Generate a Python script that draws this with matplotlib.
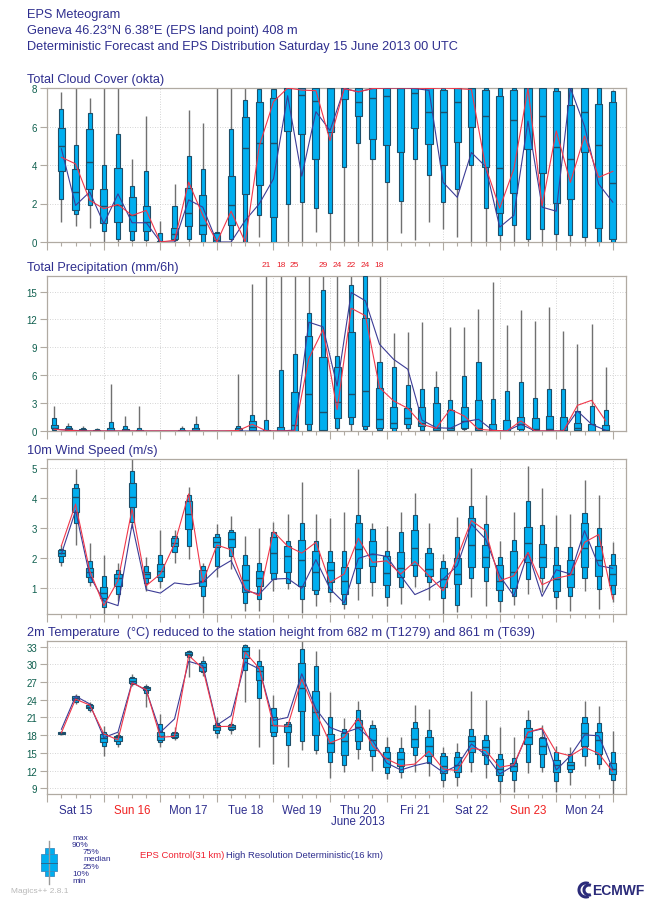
import matplotlib
matplotlib.use('Agg')
import matplotlib.pyplot as plt
from matplotlib.patches import Rectangle, Arc
from matplotlib.lines import Line2D

plt.rcParams['font.family'] = ['Liberation Sans', 'DejaVu Sans']

# ---------------- data ----------------
steps = list(range(6, 241, 6))          # forecast hours from 15 June 00 UTC
pr_steps = [h - 3 for h in steps]       # 6h accumulation centres

day_labels = ['Sat 15', 'Sun 16', 'Mon 17', 'Tue 18', 'Wed 19',
              'Thu 20', 'Fri 21', 'Sat 22', 'Sun 23', 'Mon 24']
day_is_sunday = [False, True, False, False, False, False, False, False, True, False]

# Total cloud cover (okta)
cc_max = [7.77, 8, 7.5, 8, 8, 4.32, 6.56, 1.09, 3.02, 6.87, 6.18, 8, 8, 8, 8, 8, 8, 8, 8, 8,
          8, 8, 8, 8, 8, 8, 8, 8, 8, 8, 8, 8, 8, 8, 8, 8, 8, 8, 8, 7.9]
cc_p90 = [6.9, 5.04, 6.68, 4.0, 5.6, 2.9, 3.68, 0.48, 1.87, 4.49, 3.8, 0.5, 5.87, 7.37, 7.94, 7.94, 8, 8, 8, 8,
          8, 8, 8, 8, 8, 8, 8, 8, 8, 8, 8, 8, 8, 8, 8, 8, 8, 8, 8, 7.83]
cc_p75 = [5.9, 3.8, 5.87, 2.73, 3.83, 2.33, 1.87, 0.05, 0.73, 2.82, 2.42, 0.45, 3.42, 6.48, 7.29, 7.46, 8, 8, 8, 8,
          8, 8, 8, 8, 8, 8, 8, 7.92, 8, 8, 7.88, 7.6, 7.88, 8, 8, 7.83, 7.11, 8, 7.18, 7.26]
cc_med = [4.97, 2.62, 4.14, 1.87, 1.93, 1.38, 1.04, 0, 0.43, 1.52, 0.9, 0.1, 1.93, 4.89, 5.15, 5.15, 8, 7.63, 7.34, 8,
          8, 7.28, 7.49, 7.6, 8, 7.75, 6.76, 6.76, 7.28, 8, 6.57, 3.82, 6.32, 8, 6.57, 4.96, 4.3, 6.76, 5.03, 3.06]
cc_p25 = [3.68, 1.68, 2.76, 1.0, 1.04, 0.57, 0.57, 0, 0.17, 0.81, 0.43, 0, 0.9, 2.5, 2.94, 1.3, 5.79, 5.6, 4.32, 5.73,
          7.44, 6.54, 5.37, 5.03, 4.7, 5.9, 5.11, 3.99, 5.2, 5.99, 3.92, 1.51, 2.55, 4.82, 3.61, 2.01, 2.24, 4.7, 0.72, 0.17]
cc_p10 = [2.25, 1.43, 1.9, 0.55, 0.17, 0.09, 0.09, 0, 0.09, 0.17, 0, 0, 0.17, 0, 1.38, 0, 1.99, 2.07, 1.76, 1.52,
          3.92, 5.13, 4.3, 3.1, 2.15, 4.3, 3.49, 2.07, 2.75, 3.99, 1.76, 0.34, 0.9, 0.17, 0.65, 0.43, 0.34, 0.26, 0, 0]
cc_min = [1.04, 0.81, 0.72, 0, 0, 0, 0, 0, 0, 0, 0, 0, 0, 0, 0.26, 0, 0, 0, 0.52, 0,
          0, 0, 0, 0, 0.48, 0.09, 1.03, 0.69, 0.26, 0, 0, 0, 0, 0, 0, 0, 0, 0, 0, 0]
cc_ctrl = [4.4, 4.06, 2.16, 1.73, 1.95, 1.38, 1.64, 0, 0.09, 3.11, 1.38, 0, 1.6, 0, 5.0, 7.29, 8, 7.89, 7.86, 5.27,
           7.97, 7.8, 7.97, 8, 8, 8, 7.97, 8, 7.97, 7.92, 3.92, 1.76, 3.79, 7.97, 1.89, 5.77, 3.1, 5.51, 3.36, 3.67]
cc_hres = [4.84, 1.9, 2.6, 0.95, 2.5, 1.0, 1.0, 0, 0, 2.19, 1.81, 0, 0, 1.12, 1.99, 3.28, 7.6, 3.42, 6.77, 5.79,
           7.97, 7.8, 7.97, 8, 8, 7.97, 7.88, 3.1, 2.32, 4.65, 3.92, 0.77, 1.38, 6.28, 1.81, 1.6, 8, 6.02, 3.01, 2.07]

# Total precipitation (mm/6h)
pr_max = [2.69, 0.9, 0.54, 0.36, 5.1, 1.61, 2.69, 0, 0, 0.54, 1.61, 0, 0, 6.1, 15.8, 21, 18, 25, 16.9, 29,
          24, 22, 24, 18, 10.5, 10.6, 11.7, 6.46, 11.2, 11.2, 13.1, 16.0, 11.4, 13.0, 11.8, 13.3, 10.8, 9.33, 11.5, 6.92]
pr_p90 = [1.44, 0.54, 0.36, 0.22, 0.97, 0.5, 0.32, 0, 0, 0.29, 0.75, 0, 0, 0.54, 1.69, 1.2, 6.6, 8.3, 12.7, 15.2,
          8.07, 15.7, 16.7, 7.46, 6.9, 5.0, 4.56, 4.77, 3.3, 5.92, 7.46, 3.41, 4.3, 5.31, 3.52, 4.56, 4.49, 2.15, 2.69, 2.26]
pr_p75 = [0.65, 0.36, 0.18, 0.1, 0.29, 0.18, 0.14, 0, 0, 0.1, 0.36, 0, 0, 0.36, 1.08, 0.1, 0.4, 4.2, 10.2, 8.0,
          6.9, 10.6, 12.2, 4.66, 2.62, 2.5, 2.58, 3.05, 2.26, 2.58, 3.34, 0.79, 1.15, 1.54, 1.44, 1.61, 1.51, 0.9, 0.72, 0.61]
pr_med = [0.36, 0.2, 0.07, 0.03, 0.03, 0.02, 0, 0, 0, 0.02, 0.14, 0, 0, 0.1, 0.47, 0.02, 0.02, 0.6, 3.95, 2.0,
          3.16, 3.95, 4.3, 1.26, 0.9, 1.36, 0.9, 0.3, 0.36, 1.08, 0.36, 0.07, 0.05, 0.72, 0.25, 0.18, 0.1, 0.36, 0.05, 0.07]
pr_p25 = [0.29, 0.1, 0, 0, 0, 0, 0, 0, 0, 0, 0.03, 0, 0, 0, 0.1, 0, 0, 0.05, 0.7, 0.1,
          1.44, 1.54, 0.54, 0.36, 0.36, 0.79, 0.54, 0.1, 0.1, 0.36, 0.1, 0, 0, 0.18, 0.1, 0.1, 0, 0.1, 0, 0]
pr_p10 = [0.14, 0, 0, 0, 0, 0, 0, 0, 0, 0, 0, 0, 0, 0, 0, 0, 0, 0, 0.1, 0,
          0.36, 0.72, 0.18, 0.1, 0.05, 0.29, 0.1, 0, 0, 0.18, 0, 0, 0, 0, 0, 0, 0, 0, 0, 0]
pr_min = [0] * 40
pr_ctrl = [0.18, 0.07, 0, 0, 0, 0, 0, 0, 0, 0, 0, 0, 0, 0.05, 0.72, 0, 0, 0, 7.8, 10.9,
           2.3, 13.2, 12.4, 4.66, 3.23, 2.44, 0.72, 0.29, 2.33, 1.61, 0.18, 0.07, 0, 1.08, 0, 0, 0, 2.76, 3.3, 1.08]
pr_hres = [0.18, 0.1, 0.02, 0, 0, 0, 0, 0, 0, 0, 0, 0, 0, 0, 0, 0, 0, 0.1, 11.7, 11.2,
           4.84, 14.9, 14.0, 9.33, 7.7, 6.64, 1.18, 0.36, 0.29, 1.0, 1.26, 0.07, 0, 0.72, 0, 0, 0, 2.15, 0.72, 0.07]

# 10m wind speed (m/s)
wd_max = [2.43, 4.98, 2.49, 2.09, 1.83, 5.3, 2.02, 2.94, 2.94, 4.36, 1.82, 3.13, 3.41, 2.74, 2.99, 3.19, 3.47, 4.53, 3.47, 3.32,
          3.55, 4.96, 3.17, 3.08, 3.53, 4.17, 3.16, 2.13, 3.36, 5.0, 4.11, 2.58, 3.55, 5.09, 4.33, 3.44, 3.47, 4.62, 4.11, 2.54]
wd_p90 = [2.3, 4.47, 1.88, 1.4, 1.59, 4.92, 1.74, 2.09, 2.74, 4.11, 1.74, 2.8, 2.94, 2.09, 1.83, 2.88, 2.55, 3.17, 2.58, 2.24,
          2.22, 3.43, 2.96, 2.22, 2.85, 3.44, 2.33, 1.9, 2.69, 3.73, 3.13, 2.04, 2.6, 3.92, 3.1, 2.35, 2.35, 3.49, 3.0, 2.13]
wd_p75 = [2.26, 4.33, 1.65, 1.01, 1.46, 4.5, 1.54, 1.79, 2.66, 3.92, 1.6, 2.69, 2.85, 1.76, 1.57, 2.69, 2.39, 2.61, 2.22, 1.85,
          1.7, 3.17, 2.57, 2.07, 2.18, 2.93, 2.15, 1.66, 1.99, 3.34, 2.43, 1.76, 2.24, 3.04, 2.46, 1.77, 1.93, 3.16, 2.41, 1.76]
wd_med = [2.16, 4.03, 1.54, 0.82, 1.31, 4.03, 1.46, 1.55, 2.49, 3.47, 1.23, 2.52, 2.63, 1.26, 1.31, 2.16, 2.05, 1.94, 1.51, 1.59,
          1.23, 2.3, 2.13, 1.48, 1.65, 2.33, 1.63, 1.29, 1.46, 2.43, 2.02, 1.23, 1.51, 2.49, 2.02, 1.29, 1.46, 2.33, 1.93, 1.46]
wd_p25 = [2.05, 3.53, 1.37, 0.64, 1.07, 3.69, 1.31, 1.35, 2.39, 2.97, 1.07, 2.35, 2.35, 0.84, 1.07, 1.48, 1.51, 1.07, 0.93, 1.18,
          0.79, 1.65, 1.74, 1.09, 1.37, 1.76, 1.38, 1.01, 1.12, 1.7, 1.68, 0.92, 0.98, 1.85, 1.7, 0.88, 1.03, 1.7, 1.38, 1.09]
wd_p10 = [1.85, 3.16, 1.18, 0.34, 0.79, 3.19, 1.15, 1.23, 2.21, 2.41, 0.73, 1.74, 2.07, 0.49, 0.62, 1.29, 1.16, 0.62, 0.79, 0.84,
          0.47, 1.16, 1.18, 0.7, 1.04, 1.38, 1.18, 0.65, 0.43, 1.31, 1.23, 0.56, 0.73, 1.29, 1.31, 0.68, 0.73, 1.32, 0.96, 0.8]
wd_min = [1.74, 2.43, 1.07, 0.12, 0.56, 2.99, 0.9, 0.98, 1.83, 1.96, 0.17, 1.35, 1.63, 0.23, 0.23, 0.9, 0.96, 0.17, 0.4, 0.51,
          0.28, 0.6, 0.73, 0.4, 0.47, 1.03, 0.59, 0.12, 0.2, 0.7, 0.4, 0.2, 0.42, 0.79, 0.84, 0.28, 0.23, 0.9, 0.28, 0.51]
wd_ctrl = [2.41, 3.8, 1.57, 0.4, 1.23, 3.64, 1.07, 1.46, 2.46, 4.14, 1.18, 2.43, 2.27, 0.96, 0.73, 2.88, 2.39, 2.16, 2.52, 1.18,
           1.46, 2.66, 1.85, 1.9, 1.46, 1.88, 1.4, 0.9, 2.02, 3.25, 2.91, 1.23, 1.4, 2.18, 1.1, 1.32, 1.42, 2.52, 2.78, 0.62]
wd_hres = [2.13, 3.58, 1.4, 0.56, 0.4, 3.13, 0.93, 0.82, 1.16, 1.1, 1.18, 1.63, 1.91, 0.9, 0.79, 1.29, 1.31, 0.98, 1.94, 0.96,
           0.49, 1.98, 2.13, 2.05, 1.4, 0.77, 0.98, 1.29, 1.74, 3.13, 2.63, 1.4, 0.73, 2.18, 0.71, 1.6, 1.46, 2.91, 1.74, 1.65]

# 2m temperature (deg C)
tp_max = [18.66, 25.0, 23.6, 19.6, 18.5, 28.3, 26.7, 21.5, 19.3, 32.4, 31.4, 21.0, 20.2, 33.5, 32.6, 24.8, 20.3, 34.0, 32.3, 25.3,
          20.9, 23.86, 20.6, 17.64, 17.76, 23.1, 22.45, 15.95, 16.7, 25.4, 24.0, 19.34, 17.76, 22.3, 19.7, 16.2, 15.95, 23.86, 23.0, 18.77]
tp_p90 = [18.6, 24.7, 23.2, 18.6, 18.1, 27.8, 26.4, 19.9, 18.6, 32.2, 30.6, 20.1, 19.9, 33.2, 30.6, 22.56, 20.2, 32.6, 29.8, 21.0,
          19.06, 22.3, 19.7, 16.06, 15.8, 20.2, 18.9, 14.9, 15.1, 19.06, 18.04, 14.8, 14.1, 20.6, 17.76, 15.1, 14.8, 21.15, 20.07, 15.1]
tp_p75 = [18.5, 24.6, 23.1, 18.2, 17.9, 27.6, 26.2, 18.5, 18.4, 32.05, 30.2, 19.7, 19.7, 32.9, 29.8, 21.0, 19.9, 30.2, 25.55, 18.2,
          18.3, 20.6, 19.2, 15.2, 15.2, 19.2, 17.64, 14.4, 14.25, 17.9, 17.2, 13.97, 13.3, 19.2, 17.5, 13.86, 13.5, 20.07, 18.5, 13.2]
tp_med = [18.38, 24.3, 22.84, 17.53, 17.64, 27.25, 26.0, 17.8, 18.0, 31.77, 29.5, 19.34, 19.34, 32.2, 28.9, 19.7, 19.5, 25.95, 21.9, 16.7,
          17.0, 19.45, 17.2, 14.1, 13.97, 17.4, 16.1, 12.84, 13.0, 17.0, 16.06, 12.28, 12.84, 17.64, 16.1, 13.0, 13.0, 18.3, 17.2, 12.28]
tp_p25 = [18.27, 23.97, 22.56, 16.9, 17.08, 26.85, 25.67, 17.25, 17.76, 31.5, 28.9, 18.9, 19.05, 31.0, 27.36, 18.5, 18.5, 22.05, 18.04, 15.1,
          14.65, 17.0, 15.4, 12.56, 12.84, 16.06, 14.4, 11.6, 11.8, 15.1, 14.65, 11.26, 11.9, 16.5, 14.8, 11.8, 12.28, 16.2, 14.8, 11.43]
tp_p10 = [18.2, 23.7, 22.2, 16.2, 16.5, 26.6, 25.2, 16.9, 17.5, 31.2, 28.7, 18.3, 18.8, 29.1, 24.3, 17.9, 16.3, 17.08, 15.55, 13.5,
          13.0, 15.7, 14.5, 11.6, 11.7, 14.65, 13.3, 10.47, 10.98, 13.4, 13.1, 10.3, 10.47, 13.4, 12.67, 10.3, 11.8, 14.5, 13.1, 10.47]
tp_min = [18.1, 23.3, 21.9, 14.5, 15.95, 26.4, 22.7, 16.06, 17.25, 27.8, 28.1, 17.5, 18.2, 23.7, 16.06, 13.1, 12.56, 15.4, 14.8, 10.7,
          11.8, 14.0, 12.0, 10.6, 10.7, 11.7, 11.15, 9.17, 9.34, 11.8, 10.7, 8.04, 8.3, 11.6, 11.7, 8.4, 9.56, 12.84, 12.28, 8.04]
tp_ctrl = [18.4, 24.1, 23.1, 18.2, 17.2, 26.85, 25.7, 17.64, 17.8, 31.5, 29.3, 19.45, 19.5, 32.05, 29.3, 19.6, 19.5, 27.5, 21.8, 16.7,
           17.64, 20.86, 16.2, 13.97, 12.84, 13.1, 15.27, 12.28, 12.0, 15.8, 15.4, 12.56, 13.0, 18.5, 19.2, 15.1, 14.5, 15.95, 14.9, 11.8]
tp_hres = [19.0, 24.6, 23.3, 17.6, 18.5, 26.96, 25.55, 18.5, 20.75, 30.5, 29.8, 19.7, 21.3, 30.4, 29.2, 20.5, 21.0, 28.4, 22.45, 19.3,
           18.4, 19.2, 17.1, 13.3, 12.1, 12.84, 13.4, 11.7, 12.84, 16.5, 14.65, 11.43, 12.84, 18.5, 19.06, 12.1, 14.5, 18.04, 17.9, 12.28]

# ---------------- style ----------------
W, H = 645, 903
NAVY = '#2E2E8E'
TICKC = '#0E5F4E'
FILL = '#00AEEF'
EDGE = '#1E4F6A'
WHISK = '#707070'
RED = '#F0374A'
BLUE = '#3C3C96'
SPINE = '#B0AAA2'
GRIDC = '#C6C6C6'
NW, WW = 1.75, 3.0   # box widths in hours

fig = plt.figure(figsize=(W / 100, H / 100), dpi=100)
fig.patch.set_facecolor('white')


def fx(px):
    return px / W


def fy(py):
    return 1 - py / H


def add_ax(l, t, r, b):
    return fig.add_axes([l / W, 1 - b / H, (r - l) / W, (b - t) / H])


def setup(ax, ylim, yticks):
    ax.set_xlim(-0.25, 245.6)
    ax.set_ylim(*ylim)
    ax.set_yticks(yticks)
    ax.set_yticklabels([str(t) for t in yticks])
    ax.set_xticks(list(range(0, 241, 24)))
    ax.set_xticks(steps, minor=True)
    ax.tick_params(axis='x', which='major', length=6, width=0.8, color=SPINE, labelbottom=False)
    ax.tick_params(axis='x', which='minor', length=3, width=0.8, color=SPINE)
    ax.tick_params(axis='y', which='major', length=5, width=0.8, color=SPINE,
                   labelcolor=TICKC, labelsize=7, pad=2)
    ax.grid(True, which='major', linestyle=(0, (1, 2)), color=GRIDC, linewidth=0.6)
    ax.set_axisbelow(True)
    for s in ax.spines.values():
        s.set_color(SPINE)
        s.set_linewidth(0.9)


def draw_boxes(ax, x, mn, p10, p25, med, p75, p90, mx, ctrl, hres):
    ax.vlines(x, mn, mx, colors=WHISK, linewidth=1.0, zorder=2)
    for xi, a, b, c, d, m in zip(x, p10, p25, p75, p90, med):
        if d - a > 0:
            ax.bar(xi, d - a, bottom=a, width=NW, color=FILL, edgecolor=EDGE, linewidth=0.8, zorder=3)
        if c - b > 0:
            ax.bar(xi, c - b, bottom=b, width=WW, color=FILL, edgecolor=EDGE, linewidth=0.8, zorder=4)
        if d - a > 0:
            ax.hlines(m, xi - WW / 2, xi + WW / 2, colors=EDGE, linewidth=1.0, zorder=5)
    ax.plot(x, hres, color=BLUE, linewidth=0.8, zorder=6)
    ax.plot(x, ctrl, color=RED, linewidth=0.8, zorder=7)


# ---------------- titles ----------------
tkw = dict(color=NAVY, fontsize=9.2, ha='left', va='center')
fig.text(fx(27), fy(15), 'EPS Meteogram', **tkw)
fig.text(fx(27), fy(31), 'Geneva 46.23°N 6.38°E (EPS land point) 408 m', **tkw)
fig.text(fx(27), fy(47), 'Deterministic Forecast and EPS Distribution Saturday 15 June 2013 00 UTC', **tkw)

fig.text(fx(27), fy(80), 'Total Cloud Cover (okta)', **tkw)
fig.text(fx(27), fy(267.7), 'Total Precipitation (mm/6h)', **tkw)
fig.text(fx(27), fy(451), '10m Wind Speed (m/s)', **tkw)
fig.text(fx(27), fy(632.7), '2m Temperature  (°C) reduced to the station height from 682 m (T1279) and 861 m (T639)', **tkw)

# ---------------- panels ----------------
L, R = 46.7, 626
ax1 = add_ax(L, 89, R, 243)
setup(ax1, (0, 8), [0, 2, 4, 6, 8])
draw_boxes(ax1, steps, cc_min, cc_p10, cc_p25, cc_med, cc_p75, cc_p90, cc_max, cc_ctrl, cc_hres)

ax2 = add_ax(L, 276.7, R, 432)
setup(ax2, (0, 16.7), [0, 3, 6, 9, 12, 15])
draw_boxes(ax2, pr_steps, pr_min, pr_p10, pr_p25, pr_med, pr_p75, pr_p90, pr_max, pr_ctrl, pr_hres)
for xi, v in zip(pr_steps, pr_max):
    if v > 17.5:
        ax2.text(xi, 1 + 11 / 155.3, str(int(round(v))), transform=ax2.get_xaxis_transform(),
                 ha='center', va='center', color='#E8202A', fontsize=6)

ax3 = add_ax(L, 460, R, 615)
setup(ax3, (0.12, 5.31), [1, 2, 3, 4, 5])
draw_boxes(ax3, steps, wd_min, wd_p10, wd_p25, wd_med, wd_p75, wd_p90, wd_max, wd_ctrl, wd_hres)

ax4 = add_ax(L, 642.3, R, 795)
setup(ax4, (8.03, 33.9), [9, 12, 15, 18, 21, 24, 27, 30, 33])
draw_boxes(ax4, steps, tp_min, tp_p10, tp_p25, tp_med, tp_p75, tp_p90, tp_max, tp_ctrl, tp_hres)

# day labels
h4 = 795 - 642.3
for i, (lab, sun) in enumerate(zip(day_labels, day_is_sunday)):
    ax4.text(12 + 24 * i, -15.7 / h4, lab, transform=ax4.get_xaxis_transform(),
             ha='center', va='center', fontsize=8.3, color='#F02020' if sun else NAVY)
ax4.text(132, -27 / h4, 'June 2013', transform=ax4.get_xaxis_transform(),
         ha='center', va='center', fontsize=8.3, color=NAVY)

# ---------------- legend ----------------
cx = 49
fig.add_artist(Line2D([fx(cx), fx(cx)], [fy(842), fy(885)], transform=fig.transFigure,
                      color='#9A9A9A', linewidth=1.0))
fig.add_artist(Rectangle((fx(cx - 4.5), fy(877)), fx(9), 28 / H, transform=fig.transFigure,
                         facecolor=FILL, edgecolor='#3A8CC0', linewidth=0.6))
fig.add_artist(Rectangle((fx(cx - 8), fy(872)), fx(16), 17 / H, transform=fig.transFigure,
                         facecolor=FILL, edgecolor='#3A8CC0', linewidth=0.6))
fig.add_artist(Line2D([fx(cx - 8), fx(cx + 8)], [fy(863.5), fy(863.5)], transform=fig.transFigure,
                      color='#2A6A90', linewidth=0.7))
lkw = dict(color=NAVY, fontsize=6, ha='left', va='center')
for txt, xx, yy in [('max', 72, 839), ('90%', 72, 845.5), ('75%', 83, 852.7), ('median', 83, 860),
                    ('25%', 83, 867.5), ('10%', 72, 874.5), ('min', 72, 881.5)]:
    fig.text(fx(xx), fy(yy), txt, **lkw)

t1 = fig.text(fx(140), fy(856), 'EPS Control(31 km)', color='#F02030', fontsize=6.8, ha='left', va='center')
fig.canvas.draw()
bb = t1.get_window_extent()
fig.text(bb.x1 / W + 2 / W, fy(856), 'High Resolution Deterministic(16 km)', color=NAVY,
         fontsize=6.8, ha='left', va='center')

fig.text(fx(11), fy(892), 'Magics++ 2.8.1', color='#B8B8B8', fontsize=6, ha='left', va='center')

# ECMWF logo (approximation)
for k, r in enumerate([7, 5]):
    fig.add_artist(Arc((fx(586 + 3 * k), fy(891)), 2 * r / W, 2 * r / H, theta1=60, theta2=300,
                       transform=fig.transFigure, color='#2B2B7A', linewidth=2.2))
fig.text(fx(592), fy(891), 'ECMWF', color='#2B2B7A', fontsize=10, fontweight='bold',
         ha='left', va='center')

fig.savefig('out.png', dpi=100, facecolor='white')
